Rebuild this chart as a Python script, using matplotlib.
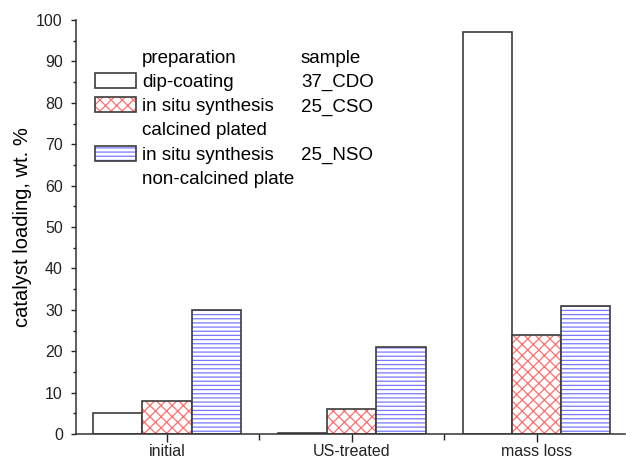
import numpy as np
import matplotlib
matplotlib.use("Agg")
import matplotlib.pyplot as plt
from matplotlib.patches import Patch
from matplotlib.ticker import MultipleLocator, FixedLocator

plt.rcParams["font.family"] = ["Liberation Sans", "DejaVu Sans"]
plt.rcParams["hatch.linewidth"] = 0.9

# data
categories = ["initial", "US-treated", "mass loss"]
dip_coating = [5, 0.3, 97]       # 37_CDO
calcined = [8, 6, 24]            # 25_CSO
non_calcined = [30, 21, 31]      # 25_NSO

prep_labels = ["preparation", "dip-coating", "in situ synthesis", "calcined plated",
               "in situ synthesis", "non-calcined plate"]
sample_labels = ["sample", "37_CDO", "25_CSO", "", "25_NSO", ""]

edge = "#3c3c3c"
red = "#ff6e6e"
blue = "#7878ff"

fig = plt.figure(figsize=(6.26, 4.59), dpi=100)
ax = fig.add_axes([76 / 626, 25 / 459, 549 / 626, 414 / 459])

x = np.arange(len(categories))
w = 0.265

# white bars
ax.bar(x - w, dip_coating, w, color="white", edgecolor=edge, linewidth=1.2)
# hatched bars: hatch first (edge colour = hatch colour), then outline on top
ax.bar(x, calcined, w, color="white", edgecolor=red, hatch="xxx", linewidth=0)
ax.bar(x, calcined, w, color="none", edgecolor=edge, linewidth=1.2)
ax.bar(x + w, non_calcined, w, color="white", edgecolor=blue, hatch="----", linewidth=0)
ax.bar(x + w, non_calcined, w, color="none", edgecolor=edge, linewidth=1.2)

ax.set_xlim(-0.492, 2.476)
ax.set_ylim(0, 100)
ax.set_xticks(x)
ax.set_xticklabels(categories, fontsize=11.5)
ax.xaxis.set_minor_locator(FixedLocator([0.5, 1.5]))
ax.yaxis.set_major_locator(MultipleLocator(10))
ax.yaxis.set_minor_locator(MultipleLocator(5))
ax.tick_params(axis="y", which="major", length=3.5, width=1, direction="out",
               labelsize=11.5, pad=6, colors="#222222")
ax.tick_params(axis="y", which="minor", length=2, width=1, direction="out", colors="#222222")
ax.tick_params(axis="x", which="major", length=5.5, width=1, direction="out",
               pad=1.5, colors="#222222")
ax.tick_params(axis="x", which="minor", length=4, width=1, direction="out", colors="#222222")

for s in ["top", "right"]:
    ax.spines[s].set_visible(False)
for s in ["left", "bottom"]:
    ax.spines[s].set_color("#333333")
    ax.spines[s].set_linewidth(1.1)

ax.set_ylabel("catalyst loading, wt. %", fontsize=14.5, labelpad=3)

# legend: preparation column with swatches, sample column as plain text
blank = Patch(facecolor="none", edgecolor="none")
outline = Patch(facecolor="none", edgecolor=edge, linewidth=1.2)
h_dip = Patch(facecolor="white", edgecolor=edge, linewidth=1.2)
h_cso = (Patch(facecolor="white", edgecolor=red, hatch="xxx", linewidth=0), outline)
h_nso = (Patch(facecolor="white", edgecolor=blue, hatch="----", linewidth=0), outline)
handles = [blank, h_dip, h_cso, blank, h_nso, blank]

leg_kw = dict(loc="upper left", frameon=False, bbox_transform=fig.transFigure,
              fontsize=13.5, handleheight=0.85, labelspacing=0.33,
              borderpad=0, borderaxespad=0)
leg1 = ax.legend(handles, prep_labels, bbox_to_anchor=(95 / 626, 1 - 49 / 459),
                 handlelength=2.2, handletextpad=0.3, **leg_kw)
ax.add_artist(leg1)
ax.legend([blank] * len(sample_labels), sample_labels,
          bbox_to_anchor=(301 / 626, 1 - 49 / 459),
          handlelength=0, handletextpad=0, **leg_kw)

fig.savefig("out.png", dpi=100)
